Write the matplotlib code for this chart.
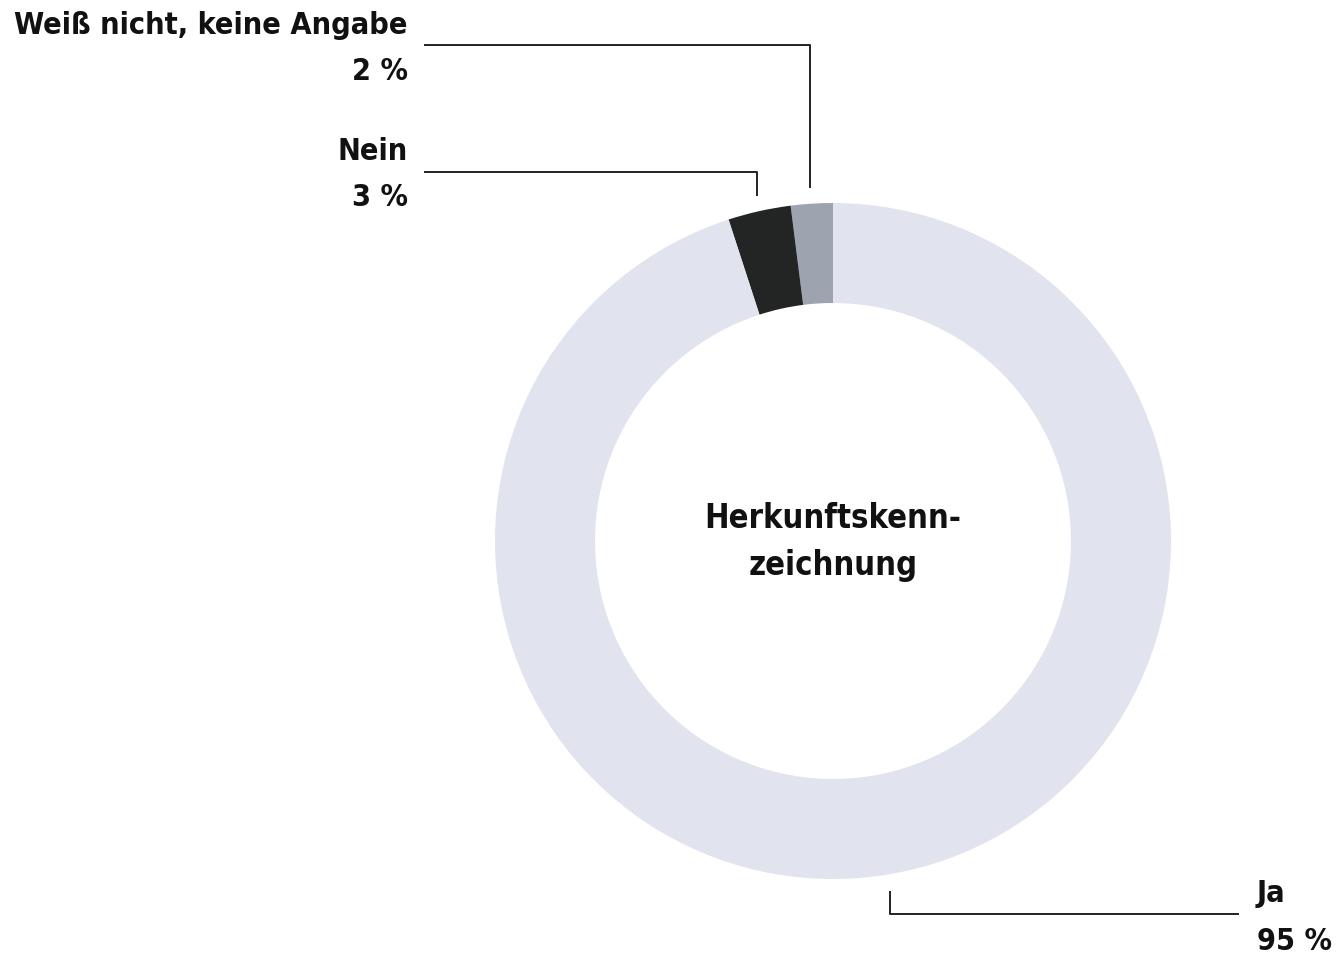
import matplotlib.pyplot as plt

plt.rcParams['font.family'] = ['DejaVu Sans']
plt.rcParams['font.stretch'] = 'condensed'

# Data
categories = ["Weiß nicht, keine Angabe", "Nein", "Ja"]
values = [2, 3, 95]
colors = ["#9ea3b0", "#232524", "#e1e3ee"]
center_lines = ["Herkunftskenn-", "zeichnung"]

W, H = 1340, 959
fig = plt.figure(figsize=(W / 100, H / 100), dpi=100)
ax = fig.add_axes([0, 0, 1, 1])

cx, cy = 833, H - 541
ax.pie(values, colors=colors, startangle=90, counterclock=True,
       center=(cx, cy), radius=338,
       wedgeprops=dict(width=100, linewidth=0))
ax.set_xlim(0, W)
ax.set_ylim(0, H)
ax.set_aspect('equal')
ax.axis('off')

def y(v):
    return H - v

txt = dict(fontsize=22, fontweight='bold', color='#111111')
line = dict(color='#222222', lw=1.4)

# Weiß nicht label + leader
ax.text(408, y(25), categories[0], ha='right', va='center', **txt)
ax.text(408, y(72), f"{values[0]} %", ha='right', va='center', **txt)
ax.plot([425, 810, 810], [y(45), y(45), y(187)], **line)

# Nein label + leader
ax.text(408, y(151), categories[1], ha='right', va='center', **txt)
ax.text(408, y(198), f"{values[1]} %", ha='right', va='center', **txt)
ax.plot([425, 757, 757], [y(172), y(172), y(195)], **line)

# Ja label + leader
ax.text(1257, y(894), categories[2], ha='left', va='center', **txt)
ax.text(1257, y(941), f"{values[2]} %", ha='left', va='center', **txt)
ax.plot([890, 890, 1238], [y(892), y(914), y(914)], **line)

# Center label
ctxt = dict(txt, fontsize=23.5)
ax.text(cx, y(518), center_lines[0], ha='center', va='center', **ctxt)
ax.text(cx, y(565), center_lines[1], ha='center', va='center', **ctxt)

fig.savefig("out.png", dpi=100)
